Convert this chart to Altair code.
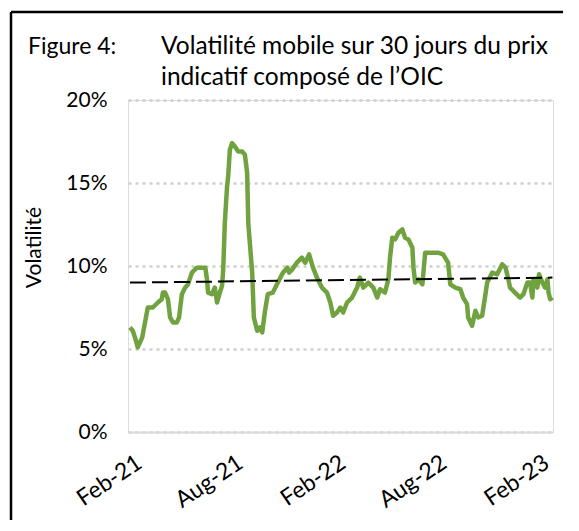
import altair as alt
import pandas as pd

# ---- data ----
dates = [
    "2021-02-01", "2021-02-06", "2021-02-10", "2021-02-15", "2021-02-23", "2021-02-28",
    "2021-03-05", "2021-03-14", "2021-03-23", "2021-03-30", "2021-04-01", "2021-04-05",
    "2021-04-10", "2021-04-14", "2021-04-19", "2021-04-26", "2021-04-30", "2021-05-05",
    "2021-05-11", "2021-05-16", "2021-05-23", "2021-06-01", "2021-06-10", "2021-06-16",
    "2021-06-19", "2021-06-21", "2021-06-28", "2021-07-03", "2021-07-07", "2021-07-12",
    "2021-07-16", "2021-07-18", "2021-07-21", "2021-07-25", "2021-07-27", "2021-07-30",
    "2021-08-03", "2021-08-08", "2021-08-14", "2021-08-21", "2021-08-26", "2021-08-30",
    "2021-09-01", "2021-09-08", "2021-09-11", "2021-09-17", "2021-09-22", "2021-09-26",
    "2021-10-01", "2021-10-06", "2021-10-15", "2021-10-24", "2021-11-02", "2021-11-10",
    "2021-11-13", "2021-11-19", "2021-11-27", "2021-12-06", "2021-12-12", "2021-12-19",
    "2021-12-26", "2022-01-02", "2022-01-11", "2022-01-20", "2022-01-26", "2022-01-31",
    "2022-02-07", "2022-02-13", "2022-02-18", "2022-02-25", "2022-03-06", "2022-03-15",
    "2022-03-20", "2022-03-26", "2022-04-04", "2022-04-13", "2022-04-20", "2022-04-25",
    "2022-05-04", "2022-05-10", "2022-05-13", "2022-05-17", "2022-05-22", "2022-05-28",
    "2022-06-04", "2022-06-09", "2022-06-15", "2022-06-22", "2022-06-24", "2022-06-27",
    "2022-07-03", "2022-07-10", "2022-07-11", "2022-07-15", "2022-07-20", "2022-07-29",
    "2022-08-07", "2022-08-16", "2022-08-25", "2022-08-29", "2022-09-07", "2022-09-16",
    "2022-09-21", "2022-09-28", "2022-09-30", "2022-10-07", "2022-10-13", "2022-10-18",
    "2022-10-25", "2022-10-31", "2022-11-03", "2022-11-12", "2022-11-21", "2022-11-30",
    "2022-12-06", "2022-12-11", "2022-12-14", "2022-12-23", "2023-01-01", "2023-01-07",
    "2023-01-14", "2023-01-19", "2023-01-23", "2023-01-25", "2023-02-01", "2023-02-04",
    "2023-02-10", "2023-02-15", "2023-02-19", "2023-02-21", "2023-02-24", "2023-02-28",
]
volatility = [
    6.3, 6.1, 5.7, 5.1, 5.7, 6.6,
    7.5, 7.5, 7.8, 8.0, 8.4, 8.4,
    8.0, 6.9, 6.6, 6.6, 6.9, 8.3,
    8.7, 8.9, 9.6, 9.9, 9.9, 9.9,
    9.2, 8.4, 8.3, 8.7, 7.8, 8.4,
    8.8, 9.7, 12.6, 14.8, 15.4, 17.0,
    17.4, 17.2, 16.9, 16.9, 16.7, 15.6,
    12.6, 9.6, 6.9, 6.1, 6.3, 6.0,
    7.3, 8.3, 8.4, 9.0, 9.6, 9.9,
    9.6, 9.8, 10.2, 10.5, 10.2, 10.7,
    9.9, 9.3, 8.7, 8.4, 7.8, 7.0,
    7.2, 7.5, 7.2, 7.8, 8.1, 8.7,
    9.3, 8.7, 9.0, 8.7, 8.1, 8.6,
    8.4, 9.2, 10.5, 11.7, 11.6, 12.0,
    12.2, 11.7, 11.6, 11.1, 9.9, 9.0,
    9.2, 8.9, 9.3, 10.8, 10.8, 10.8,
    10.8, 10.7, 10.2, 8.9, 8.7, 8.6,
    8.1, 7.7, 6.9, 6.4, 7.3, 6.9,
    7.0, 8.3, 9.0, 9.6, 9.5, 10.1,
    9.9, 9.2, 8.7, 8.4, 8.1, 8.3,
    9.0, 9.0, 8.1, 9.2, 8.7, 9.5,
    9.0, 8.7, 9.2, 8.4, 8.0, 8.1,
]
trend_dates = ["2021-02-01", "2023-02-28"]
trend_values = [9.0, 9.3]
y_ticks = [0, 5, 10, 15, 20]
x_tick_months = [(2021, 2), (2021, 8), (2022, 2), (2022, 8), (2023, 2)]
figure_label = "Figure 4:"
title_lines = ["Volatilité mobile sur 30 jours du prix", "indicatif composé de l\u2019OIC"]
y_title = "Volatilité"

FONT = "Lato"
W, H = 425, 332

series = pd.DataFrame({"date": dates, "vol": volatility})
trend = pd.DataFrame({"date": trend_dates, "vol": trend_values})

x_scale = alt.Scale(domain=[alt.DateTime(year=2021, month=1, date=28, hours=12),
                            alt.DateTime(year=2023, month=3, date=1)], nice=False)
y_scale = alt.Scale(domain=[0, 20], nice=False)

x_axis = alt.Axis(
    values=[alt.DateTime(year=y, month=m, date=1) for y, m in x_tick_months],
    format="%b-%y", title=None, grid=False, ticks=False,
    domain=True, domainColor="#d9d9d9", domainWidth=2,
    labelAngle=326, labelAlign="right", labelBaseline="top",
    labelPadding=19, labelOffset=3, labelFont=FONT, labelFontSize=23,
    labelColor="#000000", labelOverlap=False, labelFlush=False, labelBound=False,
)
y_axis = alt.Axis(
    values=y_ticks, labelExpr="datum.value + '%'", title=y_title,
    grid=True, gridDash=[3, 4], gridColor="#cfcfcf", gridWidth=2.5,
    ticks=False, domain=False, labelPadding=21,
    labelFont=FONT, labelFontSize=21, labelColor="#000000",
    titleFont=FONT, titleFontSize=21, titleFontWeight="normal", titleColor="#000000",
    titleX=-94, titleY=147, titleAlign="center", titleBaseline="middle", titleAngle=270,
)

line = alt.Chart(series).mark_line(color="#70A33F", strokeWidth=4.5, strokeJoin="round").encode(
    x=alt.X("date:T", scale=x_scale, axis=x_axis),
    y=alt.Y("vol:Q", scale=y_scale, axis=y_axis),
)
trend_line = alt.Chart(trend).mark_line(color="#000000", strokeWidth=2, strokeDash=[16, 6]).encode(
    x=alt.X("date:T", scale=x_scale),
    y=alt.Y("vol:Q", scale=y_scale),
)

fig_text = alt.Chart().mark_text(align="left", baseline="alphabetic", font=FONT,
                                 fontSize=23, color="#000000").encode(
    x=alt.value(-100), y=alt.value(-46), text=alt.value(figure_label))
title1 = alt.Chart().mark_text(align="left", baseline="alphabetic", font=FONT,
                               fontSize=24.5, color="#000000").encode(
    x=alt.value(33), y=alt.value(-46), text=alt.value(title_lines[0]))
title2 = alt.Chart().mark_text(align="left", baseline="alphabetic", font=FONT,
                               fontSize=24.5, color="#000000").encode(
    x=alt.value(33), y=alt.value(-15), text=alt.value(title_lines[1]))

border_left = alt.Chart().mark_rule(color="#000000", strokeWidth=2.5).encode(
    x=alt.value(-117), y=alt.value(-88), y2=alt.value(H + 95))
border_top = alt.Chart().mark_rule(color="#000000", strokeWidth=2.5).encode(
    x=alt.value(-117), x2=alt.value(W + 12), y=alt.value(-88))

chart = alt.layer(
    line, trend_line, fig_text, title1, title2, border_left, border_top
).properties(
    width=W, height=H,
    autosize=alt.AutoSizeParams(type="none"),
    padding={"left": 120, "top": 92, "right": 10, "bottom": 88},
).configure_view(stroke=None).configure(background="#ffffff")

chart.save("out.html", embed_options={"renderer": "svg", "actions": False})
